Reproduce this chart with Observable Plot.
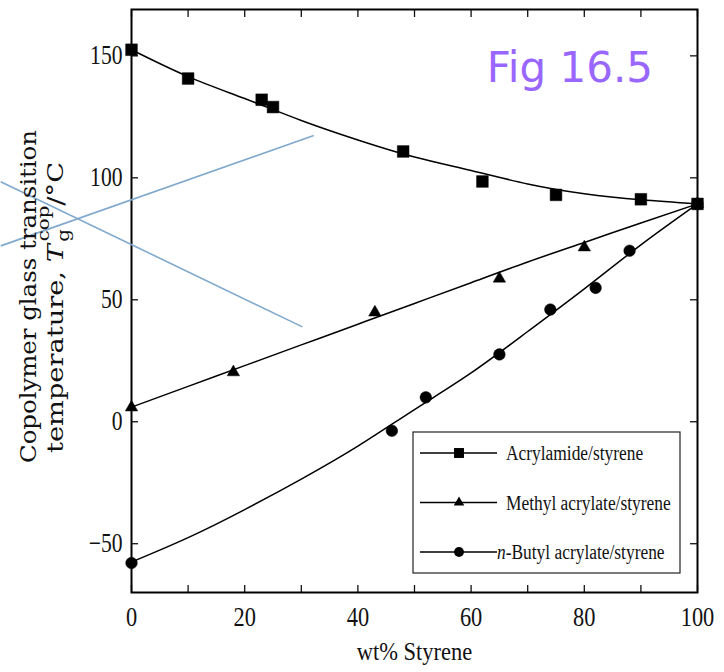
<!DOCTYPE html>
<html><head><meta charset="utf-8">
<script src="https://cdn.jsdelivr.net/npm/d3@7"></script>
<script src="https://cdn.jsdelivr.net/npm/@observablehq/plot@0.6"></script>
<style>
body{margin:0;background:#fff}
#chart{width:724px;height:672px}
</style>
</head><body><div id="chart"></div>
<script>
// ---- data ----
const seriesNames = ["Acrylamide/styrene", "Methyl acrylate/styrene", "n-Butyl acrylate/styrene"];
const seriesSymbols = ["square", "triangle", "circle"];

const acrylamideX = [0, 10, 23, 25, 48, 62, 75, 90, 100];
const acrylamideY = [152.5, 140.7, 132, 129, 110.8, 98.5, 93, 91.2, 89.3];
const methylX = [0, 18, 43, 65, 80, 100];
const methylY = [5.9, 20.3, 44.8, 58.7, 71.5, 89.3];
const butylX = [0, 46, 52, 65, 74, 82, 88, 100];
const butylY = [-57.9, -3.7, 10, 27.6, 46, 54.9, 70.1, 89.3];

// fitted curves, read at every 10 wt%
const fitX = [0, 10, 20, 30, 40, 50, 60, 70, 80, 90, 100];
const acrylamideFit = [152.5, 141.5, 132.5, 123.5, 115.5, 108.5, 103, 97.5, 93.5, 91, 89.3];
const methylFit = [6, 14.5, 23, 31.5, 40, 48.5, 57, 65.5, 73.5, 81.5, 89.3];
const butylFit = [-57.5, -47.5, -36, -23.5, -10, 5, 20, 37, 54.5, 72.5, 89.3];

// axis ticks
const xLabelTicks = [0, 20, 40, 60, 80, 100];
const xMarkTicks = [0, 10, 20, 30, 40, 50, 60, 70, 80, 90, 100];
const yTicks = [-50, 0, 50, 100, 150];

// the two light blue annotation strokes (data coordinates)
const guideX1 = [-23.1, -23.1];
const guideY1 = [72.1, 98.4];
const guideX2 = [32.2, 30.2];
const guideY2 = [117.3, 38.9];

// ---- tables ----
const pointSets = [[acrylamideX, acrylamideY], [methylX, methylY], [butylX, butylY]];
const fitSets = [acrylamideFit, methylFit, butylFit];
const points = pointSets.flatMap(([xs, ys], s) => xs.map((x, i) => ({x, y: ys[i], s})));
const fits = fitSets.flatMap((ys, s) => fitX.map((x, i) => ({x, y: ys[i], s})));
const guides = guideX1.map((x1, i) => ({x1, y1: guideY1[i], x2: guideX2[i], y2: guideY2[i]}));

const sizeOf = {square: 6.6, triangle: 4.6, circle: 5.8};

const plot = Plot.plot({
  width: 724, height: 672,
  marginLeft: 131, marginRight: 27, marginTop: 9, marginBottom: 80,
  x: {domain: [0, 100]},
  y: {domain: [-70, 169]},
  style: {fontFamily: "'Liberation Serif', serif", fontSize: "22px", color: "#111", background: "#fff"},
  marks: [
    Plot.axisX(xMarkTicks, {anchor: "bottom", tickSize: -7, fill: "none", label: null, strokeWidth: 1.3}),
    Plot.axisX(xMarkTicks, {anchor: "top", tickSize: -7, fill: "none", label: null, strokeWidth: 1.3}),
    Plot.axisX(xLabelTicks, {anchor: "bottom", tickSize: 0, tickPadding: 14, label: null, fontSize: 28}),
    Plot.axisY(yTicks, {anchor: "left", tickSize: -7, fill: "none", label: null, strokeWidth: 1.3}),
    Plot.axisY(yTicks, {anchor: "right", tickSize: -8, fill: "none", label: null, strokeWidth: 1.3}),
    Plot.axisY(yTicks, {anchor: "left", tickSize: 0, tickPadding: 9, label: null, fontSize: 27}),
    Plot.frame({stroke: "#000", strokeWidth: 2}),
    Plot.line(fits, {x: "x", y: "y", z: "s", curve: "natural", stroke: "#000", strokeWidth: 1.5}),
    ...seriesSymbols.map((sym, s) =>
      Plot.dot(points.filter(d => d.s === s), {x: "x", y: "y", symbol: sym, r: sizeOf[sym], fill: "#000", stroke: "#000", strokeWidth: 0.5})
    ),
    Plot.link(guides, {x1: "x1", y1: "y1", x2: "x2", y2: "y2", stroke: "#80a9cd", strokeWidth: 1.6}),
    Plot.text(["wt% Styrene"], {frameAnchor: "bottom", dy: 67, text: d => d, fontSize: 25})
  ]
});
document.getElementById("chart").appendChild(plot);

// ---- narrow the serif text horizontally, as in the scanned figure ----
const svg = d3.select(plot);
function squeeze(sel, sx) {
  sel.each(function () {
    const t = this.getAttribute("transform") || "";
    this.setAttribute("transform", t + ` scale(${sx},1)`);
  });
}
squeeze(svg.selectAll("g[aria-label='x-axis tick label'] text"), 0.8);
squeeze(svg.selectAll("g[aria-label='y-axis tick label'] text"), 0.8);
squeeze(svg.selectAll("g[aria-label='text'] text"), 0.9);

// ---- annotations drawn with the plot's own scales ----
const [fx0, fx1] = plot.scale("x").range;
const [fyBottom, fyTop] = plot.scale("y").range;

// y-axis title (two lines, rotated)
const yTitle = svg.append("g").attr("font-family", "'DejaVu Serif', serif").attr("fill", "#111");
const cy = (fyTop + fyBottom) / 2;
yTitle.append("text")
  .attr("transform", `translate(36,${cy - 4}) rotate(-90)`)
  .attr("text-anchor", "middle").attr("font-size", 22)
  .attr("textLength", 333).attr("lengthAdjust", "spacingAndGlyphs")
  .text("Copolymer glass transition");
const t2 = yTitle.append("text")
  .attr("transform", `translate(63,${cy + 7}) rotate(-90)`)
  .attr("text-anchor", "middle").attr("font-size", 22)
  .attr("textLength", 291).attr("lengthAdjust", "spacingAndGlyphs");
t2.append("tspan").text("temperature, ");
t2.append("tspan").attr("font-style", "italic").text("T");
t2.append("tspan").attr("font-size", 16).attr("dx", 2).attr("dy", 6).text("g");
t2.append("tspan").attr("font-size", 16).attr("dx", -10).attr("dy", -20).text("cop");
t2.append("tspan").attr("dy", 14).text("/°C");

// legend box
const lg = svg.append("g");
const bw = 267, bh = 141;
const bx = fx1 - 17 - bw, by = fyBottom - 19 - bh;
lg.append("rect").attr("x", bx).attr("y", by).attr("width", bw).attr("height", bh)
  .attr("fill", "#fff").attr("stroke", "#222").attr("stroke-width", 1.2);
const symGen = {square: d3.symbolSquare, triangle: d3.symbolTriangle, circle: d3.symbolCircle};
seriesNames.forEach((name, i) => {
  const ry = by + 21 + i * 49.5;
  lg.append("line").attr("x1", bx + 7).attr("x2", bx + 84).attr("y1", ry).attr("y2", ry)
    .attr("stroke", "#000").attr("stroke-width", 1.3);
  const sym = seriesSymbols[i];
  const r = sizeOf[sym] * 0.85;
  lg.append("path").attr("transform", `translate(${bx + 46},${ry})`)
    .attr("d", d3.symbol(symGen[sym], Math.PI * r * r)()).attr("fill", "#000");
  const tx = lg.append("text").attr("transform", `translate(${bx + (name.startsWith("n-") ? 84 : 93)},${ry + 7}) scale(0.87,1)`)
    .attr("text-anchor", "start")
    .attr("font-family", "'Liberation Serif', serif").attr("font-size", 20).attr("fill", "#111");
  if (name.startsWith("n-")) {
    tx.append("tspan").attr("font-style", "italic").text("n");
    tx.append("tspan").text(name.slice(1));
  } else tx.text(name);
});

// figure number
svg.append("text").attr("x", fx1 - 44).attr("y", 82).attr("text-anchor", "end")
  .attr("font-family", "'DejaVu Sans', sans-serif").attr("font-size", 42).attr("fill", "#9966ff")
  .text("Fig 16.5");
</script>
</body></html>
